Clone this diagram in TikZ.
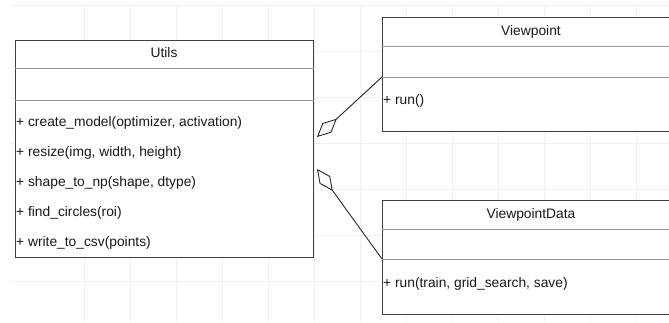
\documentclass[tikz,border=0pt]{standalone}
\usepackage{fontspec}
\setmainfont{Liberation Sans}
\usetikzlibrary{arrows.meta,calc}
\newcommand{\umlfont}{\fontsize{13.8pt}{16pt}\selectfont}
\begin{document}
\begin{tikzpicture}[x=1pt,y=-1pt,
  box/.style={draw=black!75, line width=1pt, fill=white, rectangle, inner sep=0, anchor=north west},
  div/.style={draw=black!40, line width=0.8pt},
  lbl/.style={font=\umlfont, text=black!90, inner sep=0, anchor=west},
  ttl/.style={font=\umlfont, text=black!90, inner sep=0},
  agg/.style={draw=black!85, line width=0.9pt, -{Diamond[open, length=27pt, width=13pt, line width=0.9pt]}},
  gridc/.style={draw=black!6, line width=0.6pt}]
\useasboundingbox (0,0) rectangle (669,322);
\begin{scope}
\clip (0,0) rectangle (669,322);
% background grid
\foreach \x in {84,130,...,660} \draw[gridc] (\x,5) -- (\x,322);
\foreach \y in {5,51,...,322} \draw[gridc] (10,\y) -- (669,\y);
% Utils
\node[box, minimum width=298pt, minimum height=217pt] (utils) at (15,40) {};
\draw[div] ($(utils.north west)+(0,28)$) -- ($(utils.north east)+(0,28)$);
\draw[div] ($(utils.north west)+(0,60)$) -- ($(utils.north east)+(0,60)$);
\node[ttl] (utilsT) at (164,53) {Utils};
\node[lbl] (u1) at (16,123) {+ create\_model(optimizer, activation)};
\node[lbl] (u2) at (16,153) {+ resize(img, width, height)};
\node[lbl] (u3) at (16,183) {+ shape\_to\_np(shape, dtype)};
\node[lbl] (u4) at (16,213) {+ find\_circles(roi)};
\node[lbl] (u5) at (16,243) {+ write\_to\_csv(points)};
% Viewpoint
\node[box, minimum width=298pt, minimum height=114pt] (vp) at (382,17) {};
\draw[div] ($(vp.north west)+(0,29)$) -- ($(vp.north east)+(0,29)$);
\draw[div] ($(vp.north west)+(0,60)$) coordinate (vpd) -- ($(vp.north east)+(0,60)$);
\node[ttl] (vpT) at (531,32) {Viewpoint};
\node[lbl] (v1) at (383,101) {+ run()};
% ViewpointData
\node[box, minimum width=298pt, minimum height=114pt] (vpd2) at (382,200) {};
\draw[div] ($(vpd2.north west)+(0,29)$) -- ($(vpd2.north east)+(0,29)$);
\draw[div] ($(vpd2.north west)+(0,59)$) coordinate (vpdd) -- ($(vpd2.north east)+(0,59)$);
\node[ttl] (vpdT) at (531,215) {ViewpointData};
\node[lbl] (d1) at (383,284) {+ run(train, grid\_search, save)};
% aggregations
\coordinate (a1) at (317,137);
\coordinate (a2) at (317,169);
\draw[agg] (vpd) -- (a1);
\draw[agg] (vpdd) -- (a2);
\end{scope}
\end{tikzpicture}
\end{document}
